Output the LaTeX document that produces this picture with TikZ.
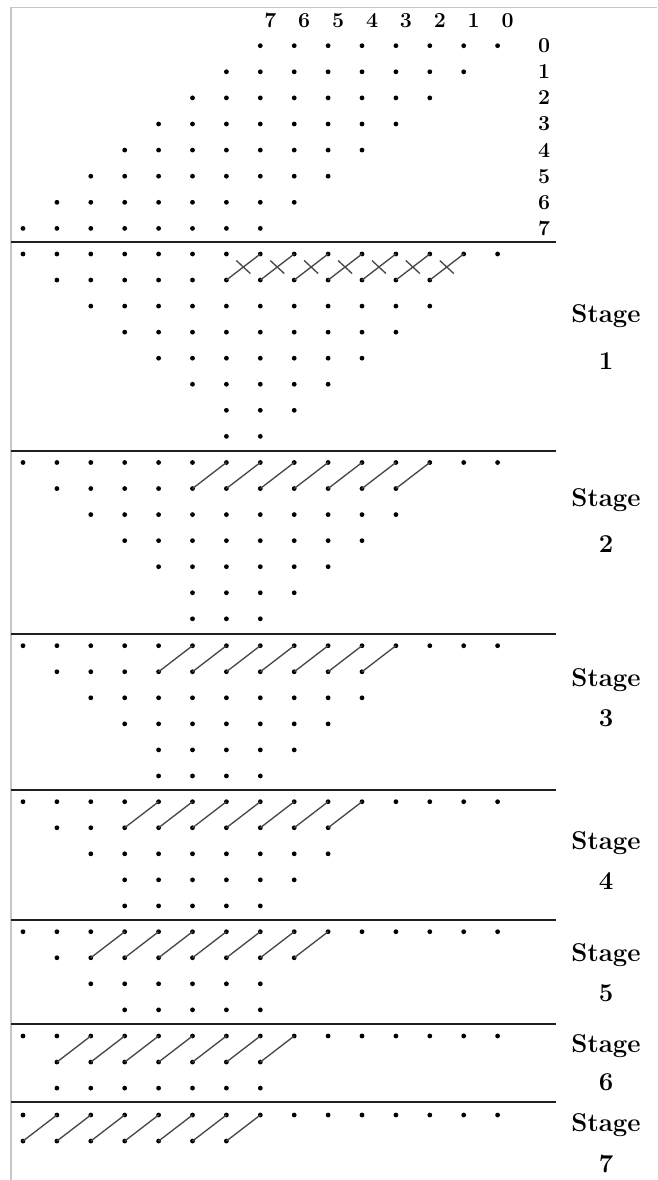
\documentclass[tikz,border=0pt]{standalone}
\begin{document}
\begin{tikzpicture}[x=0.75pt,y=-0.75pt,
  dotnode/.style={circle,fill=black,inner sep=0pt,minimum size=3.6pt},
  sepline/.style={line width=1.5pt,draw=black!88},
  link/.style={line width=1pt,draw=black!72},
  hdr/.style={font=\fontsize{16}{16}\selectfont\bfseries,inner sep=0pt},
  stg/.style={font=\fontsize{19.3}{19.3}\selectfont\bfseries,inner sep=0pt,anchor=base},
  framel/.style={line width=1.1pt,draw=black!22}]
\useasboundingbox (0,0) rectangle (657,1180);
\draw[framel] (11,1180) -- (11,7.3) -- (657,7.3);
% header column labels
\foreach \i in {0,...,7} {
  \pgfmathsetmacro\xx{23+33.9*(14-\i)+10}
  \node[hdr] (h\i) at (\xx,20.7) {\i};
}
% row labels and top dots
\foreach \r in {0,...,7} {
  \pgfmathsetmacro\yy{45.7+26.1*\r}
  \node[hdr] (rl\r) at (544,\yy) {\r};
  \pgfmathtruncatemacro\a{7-\r}
  \pgfmathtruncatemacro\b{14-\r}
  \foreach \c in {\a,...,\b} {
    \node[dotnode] (t-\r-\c) at ({23+33.9*\c},\yy) {};
  }
}
\newcommand\dotrows[3]{%
  \foreach \lo/\hi [count=\k from 0] in {#3} {
    \foreach \c in {\lo,...,\hi} {
      \node[dotnode] (s#1-\k-\c) at ({23+33.9*\c},{#2+26.05*\k}) {};
    }
  }%
}
\newcommand\links[3]{%
  \foreach \c in {#2,...,#3} {
    \pgfmathtruncatemacro\d{\c+1}
    \draw[link] (s#1-1-\c.center) -- (s#1-0-\d.center);
  }%
}
% separators
\foreach \yy in {242.3,451,633.7,789.7,920,1024,1102.3}
  \draw[sepline] (11,\yy) -- (556,\yy);
% stage 1
\dotrows{1}{254}{0/14,1/12,2/12,3/11,4/10,5/9,6/8,6/7}
\foreach \c in {6,...,12} {
  \pgfmathtruncatemacro\d{\c+1}
  \draw[link] (s1-1-\c.center) -- (s1-0-\d.center) coordinate[midway] (m\c);
  \draw[link] ([shift={(-7,-6.5)}]m\c) -- ([shift={(7,6.5)}]m\c);
}
% stage 2
\dotrows{2}{462.5}{0/14,1/11,2/11,3/10,4/9,5/8,5/7}
\links{2}{5}{11}
% stage 3
\dotrows{3}{645.7}{0/14,1/10,2/10,3/9,4/8,4/7}
\links{3}{4}{10}
% stage 4
\dotrows{4}{801.7}{0/14,1/9,2/9,3/8,3/7}
\links{4}{3}{9}
% stage 5
\dotrows{5}{931.7}{0/14,1/8,2/7,3/7}
\links{5}{2}{8}
% stage 6
\dotrows{6}{1036}{0/14,1/7,1/7}
\links{6}{1}{7}
% stage 7
\dotrows{7}{1115}{0/14,0/6}
\links{7}{0}{6}
% stage labels
\foreach \s/\ya/\yb in {1/322/369,2/506/552,3/686/726,4/849/889,5/961/1001,6/1052/1090,7/1131/1172} {
  \node[stg] (st\s) at (606,\ya) {Stage};
  \node[stg] (sn\s) at (606,\yb) {\s};
}
\end{tikzpicture}
\end{document}
